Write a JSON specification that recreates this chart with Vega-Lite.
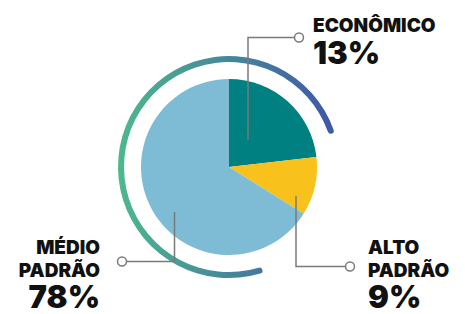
{
  "$schema": "https://vega.github.io/schema/vega-lite/v6.json",
  "width": 465,
  "height": 314,
  "autosize": {"type": "fit", "contains": "padding"},
  "padding": 0,
  "background": "white",
  "config": {"view": {"stroke": null}},
  "datasets": {
    "slices": [
      {"category": "Econômico", "share": 23.2, "ord": 1},
      {"category": "Alto padrão", "share": 10.7, "ord": 2},
      {"category": "Médio padrão", "share": 66.1, "ord": 3}
    ],
    "ring": [{"start": 45, "end": 120}],
    "leaders": [
      {"id": "Econômico", "step": 1, "lx": 248, "ly": 140},
      {"id": "Econômico", "step": 2, "lx": 248, "ly": 37.5},
      {"id": "Econômico", "step": 3, "lx": 294, "ly": 37.5},
      {"id": "Alto padrão", "step": 1, "lx": 296, "ly": 196},
      {"id": "Alto padrão", "step": 2, "lx": 296, "ly": 266.5},
      {"id": "Alto padrão", "step": 3, "lx": 345, "ly": 266.5},
      {"id": "Médio padrão", "step": 1, "lx": 174.5, "ly": 212},
      {"id": "Médio padrão", "step": 2, "lx": 174.5, "ly": 261.5},
      {"id": "Médio padrão", "step": 3, "lx": 127, "ly": 261.5}
    ],
    "dots": [
      {"id": "Econômico", "dx": 299, "dy": 37.5},
      {"id": "Alto padrão", "dx": 350, "dy": 266.5},
      {"id": "Médio padrão", "dx": 122, "dy": 261.5}
    ],
    "labels": [
      {"category": "Econômico", "name": "ECONÔMICO", "pct": "13%", "nx": 313, "ny": 31.5, "px": 313, "py": 64, "side": "left"},
      {"category": "Alto padrão", "name": "ALTO\nPADRÃO", "pct": "9%", "nx": 368, "ny": 254, "px": 368, "py": 308, "side": "left"},
      {"category": "Médio padrão", "name": "MÉDIO\nPADRÃO", "pct": "78%", "nx": 100, "ny": 254, "px": 100, "py": 308, "side": "right"}
    ]
  },
  "layer": [
    {
      "data": {"name": "ring"},
      "mark": {
        "type": "arc",
        "outerRadius": 111,
        "innerRadius": 105,
        "cornerRadius": 3,
        "fill": {
          "gradient": "linear",
          "x1": 0, "y1": 0.5, "x2": 1, "y2": 0.5,
          "stops": [
            {"offset": 0, "color": "#4DB88D"},
            {"offset": 1, "color": "#3F58A8"}
          ]
        }
      },
      "encoding": {
        "x": {"datum": 229, "type": "quantitative", "scale": {"domain": [0, 465], "zero": false, "nice": false}, "axis": null},
        "y": {"datum": 167, "type": "quantitative", "scale": {"domain": [0, 314], "zero": false, "nice": false, "reverse": true}, "axis": null},
        "theta": {"field": "start", "type": "quantitative", "scale": {"domain": [0, 100]}},
        "theta2": {"field": "end"}
      }
    },
    {
      "data": {"name": "slices"},
      "mark": {"type": "arc", "outerRadius": 88},
      "encoding": {
        "x": {"datum": 229, "type": "quantitative"},
        "y": {"datum": 167, "type": "quantitative"},
        "theta": {"field": "share", "type": "quantitative", "stack": true},
        "order": {"field": "ord", "type": "quantitative"},
        "color": {
          "field": "category",
          "type": "nominal",
          "scale": {"domain": ["Econômico", "Alto padrão", "Médio padrão"], "range": ["#008080", "#F9C11C", "#7DBCD4"]},
          "legend": null
        }
      }
    },
    {
      "data": {"name": "leaders"},
      "mark": {"type": "line", "stroke": "#7A7A7A", "strokeWidth": 1.5},
      "encoding": {
        "x": {"field": "lx", "type": "quantitative"},
        "y": {"field": "ly", "type": "quantitative"},
        "detail": {"field": "id"},
        "order": {"field": "step", "type": "quantitative"}
      }
    },
    {
      "data": {"name": "dots"},
      "mark": {"type": "point", "shape": "circle", "size": 80, "filled": false, "fill": "white", "fillOpacity": 1, "stroke": "#7A7A7A", "strokeWidth": 1.5, "opacity": 1},
      "encoding": {
        "x": {"field": "dx", "type": "quantitative"},
        "y": {"field": "dy", "type": "quantitative"}
      }
    },
    {
      "data": {"name": "labels"},
      "transform": [{"filter": "datum.side == 'left'"}],
      "mark": {"type": "text", "align": "left", "baseline": "alphabetic", "font": "Inter", "fontWeight": 900, "fontSize": 19, "lineHeight": 23, "lineBreak": "\n", "color": "#111111"},
      "encoding": {
        "x": {"field": "nx", "type": "quantitative"},
        "y": {"field": "ny", "type": "quantitative"},
        "text": {"field": "name"}
      }
    },
    {
      "data": {"name": "labels"},
      "transform": [{"filter": "datum.side == 'right'"}],
      "mark": {"type": "text", "align": "right", "baseline": "alphabetic", "font": "Inter", "fontWeight": 900, "fontSize": 19, "lineHeight": 23, "lineBreak": "\n", "color": "#111111"},
      "encoding": {
        "x": {"field": "nx", "type": "quantitative"},
        "y": {"field": "ny", "type": "quantitative"},
        "text": {"field": "name"}
      }
    },
    {
      "data": {"name": "labels"},
      "transform": [{"filter": "datum.side == 'left'"}],
      "mark": {"type": "text", "align": "left", "baseline": "alphabetic", "font": "Inter", "fontWeight": 900, "fontSize": 31, "color": "#111111"},
      "encoding": {
        "x": {"field": "px", "type": "quantitative"},
        "y": {"field": "py", "type": "quantitative"},
        "text": {"field": "pct"}
      }
    },
    {
      "data": {"name": "labels"},
      "transform": [{"filter": "datum.side == 'right'"}],
      "mark": {"type": "text", "align": "right", "baseline": "alphabetic", "font": "Inter", "fontWeight": 900, "fontSize": 31, "color": "#111111"},
      "encoding": {
        "x": {"field": "px", "type": "quantitative"},
        "y": {"field": "py", "type": "quantitative"},
        "text": {"field": "pct"}
      }
    }
  ]
}
